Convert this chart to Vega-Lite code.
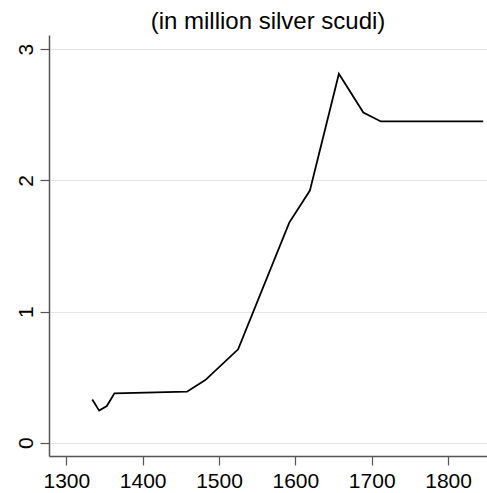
{
  "$schema": "https://vega.github.io/schema/vega-lite/v6.json",
  "width": 438,
  "height": 421,
  "autosize": {"type": "none"},
  "padding": {"left": 49, "top": 35, "right": 0, "bottom": 37},
  "background": "white",
  "title": {
    "text": "(in million silver scudi)",
    "anchor": "middle",
    "font": "Liberation Sans",
    "fontSize": 24,
    "fontWeight": "normal",
    "color": "black",
    "baseline": "alphabetic",
    "offset": 3,
    "dy": 21
  },
  "config": {
    "view": {"stroke": null},
    "axis": {
      "labelFont": "Liberation Sans",
      "labelFontSize": 21,
      "labelColor": "black",
      "domainColor": "#555555",
      "tickColor": "#555555",
      "domainWidth": 1.5,
      "tickWidth": 1.2,
      "tickSize": 9,
      "gridColor": "#e6e6e6",
      "gridWidth": 1.2,
      "title": null
    }
  },
  "data": {
    "values": [
      {"year": 1334, "value": 0.33},
      {"year": 1343, "value": 0.245},
      {"year": 1353, "value": 0.28},
      {"year": 1363, "value": 0.377},
      {"year": 1458, "value": 0.389},
      {"year": 1482, "value": 0.478},
      {"year": 1525, "value": 0.712},
      {"year": 1592, "value": 1.678},
      {"year": 1619, "value": 1.922},
      {"year": 1657, "value": 2.812},
      {"year": 1689, "value": 2.517},
      {"year": 1712, "value": 2.449},
      {"year": 1846, "value": 2.449}
    ]
  },
  "mark": {"type": "line", "color": "black", "strokeWidth": 1.8},
  "encoding": {
    "x": {
      "field": "year",
      "type": "quantitative",
      "scale": {"domain": [1277.3, 1851], "nice": false, "zero": false},
      "axis": {
        "values": [1300, 1400, 1500, 1600, 1700, 1800],
        "format": "d",
        "grid": false,
        "labelPadding": 5,
        "labelFlush": false,
        "labelOverlap": false
      }
    },
    "y": {
      "field": "value",
      "type": "quantitative",
      "scale": {"domain": [-0.101, 3.108], "nice": false, "zero": false},
      "axis": {
        "values": [0, 1, 2, 3],
        "format": "d",
        "grid": true,
        "labelAngle": -90,
        "labelAlign": "center",
        "labelBaseline": "alphabetic",
        "labelPadding": 8,
        "labelFlush": false,
        "labelOverlap": false
      }
    }
  }
}
